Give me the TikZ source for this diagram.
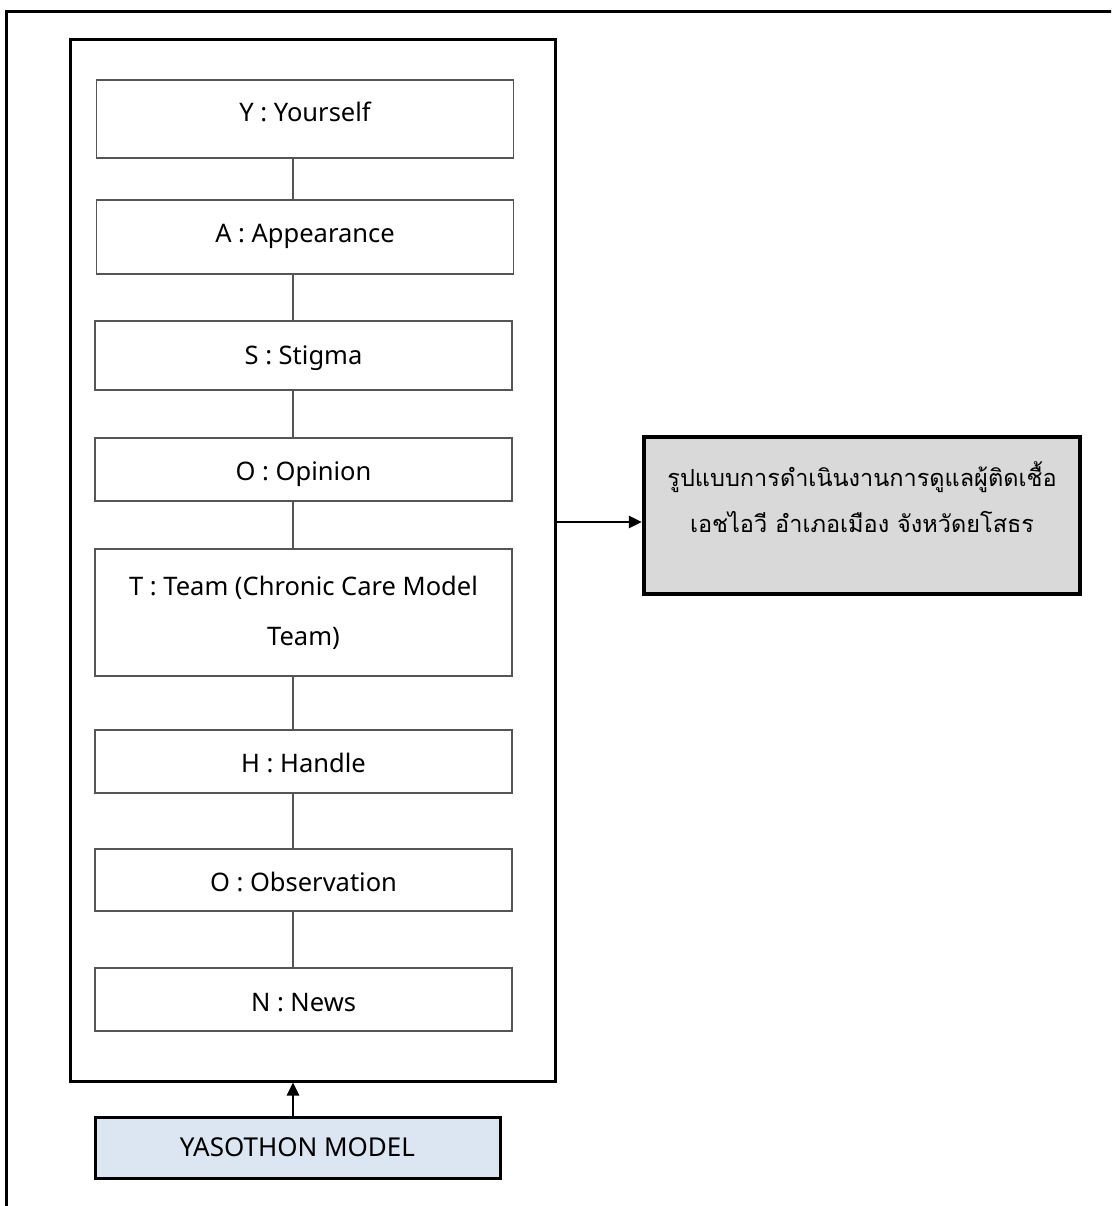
\documentclass[tikz,border=0pt]{standalone}
\usepackage{fontspec}
\setmainfont{Noto Sans}
\newfontfamily\thaifont[Script=Thai]{Loma}
\usetikzlibrary{arrows.meta}
\definecolor{boxline}{HTML}{555555}
\definecolor{lightblue}{HTML}{DCE6F2}
\definecolor{lightgray}{HTML}{D9D9D9}
\tikzset{
  item/.style={draw=boxline, line width=1.3pt, minimum width=417pt, inner sep=0pt, align=center, font=\fontsize{25.5}{50}\selectfont},
  tpos/.style={text height=24pt, text depth=#1},
  link/.style={draw=boxline, line width=1.3pt},
  thick box/.style={draw=black, line width=3pt},
  arr/.style={draw=black, line width=2.7pt, -{Triangle[length=13pt,width=12pt]}},
}
\begin{document}
\begin{tikzpicture}[x=1pt,y=-1pt]
\useasboundingbox (0,0) rectangle (1111,1206);
\begin{scope}
\clip (0,0) rectangle (1111,1206);
\draw[thick box] (6,12) rectangle (1130,1230);
\end{scope}
\node[thick box, minimum width=485pt, minimum height=1041pt, inner sep=0pt] (frame) at (312.5,560.5) {};
\node[item, tpos=18pt, minimum height=78pt] (y) at (305,119) {Y : Yourself};
\node[item, tpos=12pt, minimum height=74pt] (a) at (305,237) {A : Appearance};
\node[item, tpos=6pt, minimum height=69pt] (s) at (303.5,355.5) {S : Stigma};
\node[item, tpos=3pt, minimum height=63pt] (o1) at (303.5,469.5) {O : Opinion};
\node[item, minimum height=127pt] (t) at (303.5,612.5) {T : Team (Chronic Care Model\\Team)};
\node[item, tpos=3pt, minimum height=63pt] (h) at (303.5,761.5) {H : Handle};
\node[item, tpos=2pt, minimum height=62pt] (o2) at (303.5,880) {O : Observation};
\node[item, tpos=1pt, minimum height=63pt] (n) at (303.5,999.5) {N : News};
\coordinate (cx) at (293,0);
\foreach \u/\v in {y/a,a/s,s/o1,o1/t,t/h,h/o2,o2/n}{
  \draw[link] (cx |- \u.south) -- (cx |- \v.north);
}
\node[thick box, fill=lightblue, minimum width=405pt, minimum height=61pt, inner sep=0pt, font=\fontsize{26}{30}\selectfont] (model) at (297.5,1147.5) {YASOTHON MODEL};
\draw[arr] (cx |- model.north) -- (cx |- frame.south);
\node[draw=black, line width=4.5pt, fill=lightgray, minimum width=436pt, minimum height=157pt, inner sep=0pt] (result) at (862,515.5) {};
\node[anchor=north, align=center, inner sep=0pt, font=\thaifont\fontsize{23.5}{46}\selectfont] (resulttext) at ([yshift=-27pt]result.north) {รูปแบบการดำเนินงานการดูแลผู้ติดเชื้อ\\เอชไอวี อำเภอเมือง จังหวัดยโสธร};
\draw[arr] (frame.east |- 0,522) -- (result.west |- 0,522);
\end{tikzpicture}
\end{document}
